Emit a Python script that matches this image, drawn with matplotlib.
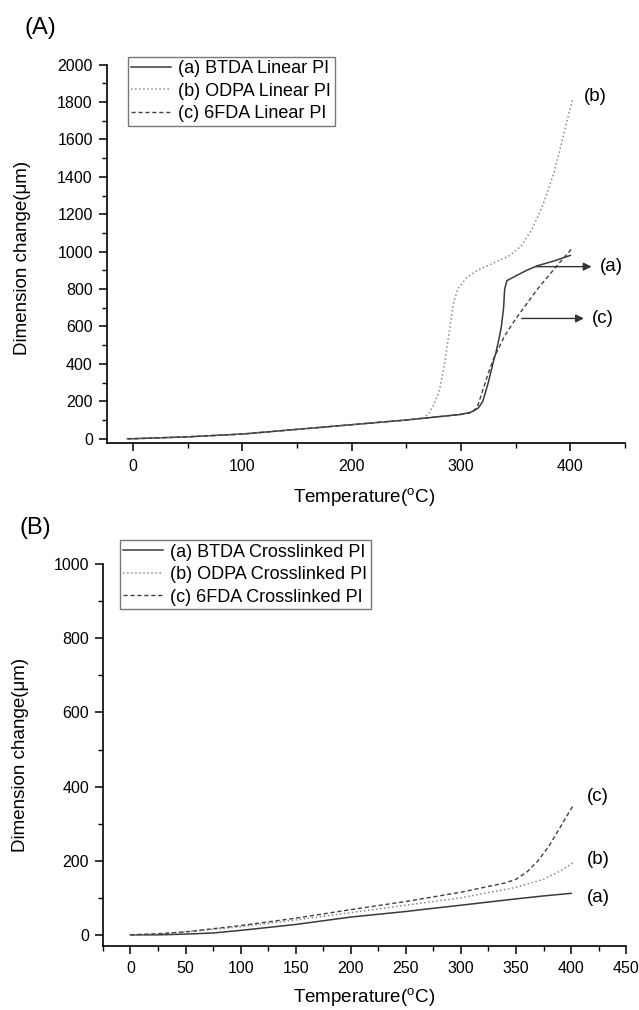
import numpy as np
import matplotlib
matplotlib.use("Agg")
import matplotlib.pyplot as plt
from matplotlib.ticker import MultipleLocator

plt.rcParams['font.family'] = ['Liberation Sans', 'DejaVu Sans']
plt.rcParams['mathtext.fontset'] = 'custom'
plt.rcParams['mathtext.rm'] = 'Liberation Sans'

# --- Panel A: linear PI ---
btda_lin_t = [-5, 0, 50, 100, 150, 200, 250, 270, 300, 308, 312, 316, 320, 325, 330, 332, 335, 337,
              339, 340, 342, 350, 360, 370, 385, 400]
btda_lin_v = [0, 0, 10, 25, 50, 75, 100, 112, 130, 140, 150, 165, 200, 300, 420, 460, 540, 600,
              700, 800, 845, 870, 900, 925, 950, 980]
odpa_lin_t = [-5, 0, 50, 100, 150, 200, 250, 265, 270, 275, 280, 285, 290, 293, 297, 305, 315, 330,
              345, 355, 365, 375, 385, 392, 397, 402]
odpa_lin_v = [0, 0, 10, 25, 50, 75, 100, 112, 130, 180, 250, 400, 600, 720, 800, 860, 900, 940,
              980, 1030, 1120, 1250, 1420, 1580, 1700, 1810]
fda_lin_t = [-5, 0, 50, 100, 150, 200, 250, 270, 300, 310, 315, 320, 325, 330, 335, 340, 350, 360,
             370, 380, 390, 402]
fda_lin_v = [0, 0, 10, 25, 50, 75, 100, 112, 130, 140, 170, 260, 350, 430, 490, 550, 640, 720,
             800, 870, 940, 1020]

# --- Panel B: crosslinked PI ---
btda_x_t = [0, 25, 50, 75, 100, 150, 200, 250, 270, 300, 350, 375, 400]
btda_x_v = [0, 0, 2, 5, 12, 28, 48, 63, 70, 80, 97, 105, 112]
odpa_x_t = [0, 25, 50, 100, 150, 200, 250, 300, 350, 375, 390, 402]
odpa_x_v = [0, 2, 8, 22, 40, 60, 80, 100, 128, 150, 172, 195]
fda_x_t = [0, 25, 50, 100, 150, 200, 250, 300, 340, 350, 360, 370, 380, 390, 402]
fda_x_v = [0, 3, 8, 25, 45, 68, 90, 115, 140, 150, 170, 200, 240, 290, 350]

labels_a = ["(a) BTDA Linear PI", "(b) ODPA Linear PI", "(c) 6FDA Linear PI"]
labels_b = ["(a) BTDA Crosslinked PI", "(b) ODPA Crosslinked PI", "(c) 6FDA Crosslinked PI"]

fig = plt.figure(figsize=(6.39, 10.10), dpi=100)
axA = fig.add_axes([0.167, 0.561, 0.811, 0.375])
axB = fig.add_axes([0.161, 0.0634, 0.819, 0.378])

styles = [dict(color='#3a3a3a', ls='-', lw=1.1),
          dict(color='#8a8a8a', ls=':', lw=1.1),
          dict(color='#404040', ls=(0, (3, 2)), lw=1.0)]

for t, v, lab, st in zip([btda_lin_t, odpa_lin_t, fda_lin_t], [btda_lin_v, odpa_lin_v, fda_lin_v], labels_a, styles):
    axA.plot(t, v, label=lab, **st)
for t, v, lab, st in zip([btda_x_t, odpa_x_t, fda_x_t], [btda_x_v, odpa_x_v, fda_x_v], labels_b, styles):
    axB.plot(t, v, label=lab, **st)

def style(ax, xmaj, xmin, ymaj, ymin, xlim, ylim, leg_anchor):
    ax.set_xlim(*xlim)
    ax.set_ylim(*ylim)
    for s in ['top', 'right']:
        ax.spines[s].set_visible(False)
    for s in ['left', 'bottom']:
        ax.spines[s].set_linewidth(1.2)
    ax.xaxis.set_major_locator(MultipleLocator(xmaj))
    ax.xaxis.set_minor_locator(MultipleLocator(xmin))
    ax.yaxis.set_major_locator(MultipleLocator(ymaj))
    ax.yaxis.set_minor_locator(MultipleLocator(ymin))
    ax.tick_params(which='major', direction='out', length=6, width=1.1, labelsize=11.5, pad=4)
    ax.tick_params(axis='x', which='major', pad=5)
    ax.tick_params(which='minor', direction='out', length=3.5, width=1.0)
    leg = ax.legend(loc='upper left', bbox_to_anchor=leg_anchor, fontsize=13, frameon=True,
                    fancybox=False, edgecolor='#555555', handlelength=2.2, borderpad=0.2,
                    labelspacing=0.3, handletextpad=0.4, borderaxespad=0)
    leg.get_frame().set_linewidth(1.0)
    ax.set_xlabel(r"Temperature($^\mathrm{o}$C)", fontsize=13.5)
    ax.set_ylabel("Dimension change(\u03bcm)", fontsize=13.5)

style(axA, 100, 50, 200, 100, (-24, 450), (-25, 2000), (0.0405, 1.021))
style(axB, 50, 25, 200, 100, (-25, 450), (-30, 1000), (0.0325, 1.063))
axA.set_xticks([0, 100, 200, 300, 400])
axA.xaxis.set_label_coords(0.496, -0.112)
axA.yaxis.set_label_coords(-0.147, 0.49)
axB.xaxis.set_label_coords(0.5, -0.105)
axB.yaxis.set_label_coords(-0.142, 0.5)

# annotations panel A
arr = dict(arrowstyle='-|>', color='#333333', lw=1.0, mutation_scale=12)
axA.annotate("", xy=(422, 920), xytext=(366, 920), arrowprops=arr)
axA.text(427, 920, "(a)", fontsize=13.5, va='center', ha='left')
axA.annotate("", xy=(415, 643), xytext=(353, 643), arrowprops=arr)
axA.text(420, 643, "(c)", fontsize=13.5, va='center', ha='left')
axA.text(412, 1830, "(b)", fontsize=13.5, va='center', ha='left')

# annotations panel B
axB.text(414, 372, "(c)", fontsize=13.5, va='center', ha='left')
axB.text(414, 204, "(b)", fontsize=13.5, va='center', ha='left')
axB.text(414, 100, "(a)", fontsize=13.5, va='center', ha='left')

fig.text(0.038, 0.972, "(A)", fontsize=17, va='center', ha='left')
fig.text(0.031, 0.477, "(B)", fontsize=17, va='center', ha='left')

fig.savefig("out.png", dpi=100)
